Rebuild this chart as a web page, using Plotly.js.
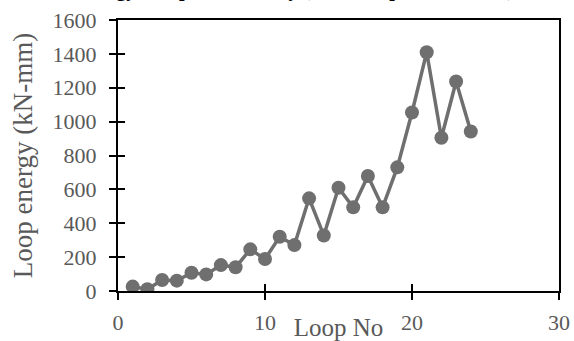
<!DOCTYPE html>
<html><head><meta charset="utf-8">
<script src="https://cdn.plot.ly/plotly-3.0.1.min.js"></script>
<style>html,body{margin:0;padding:0;background:#fff}#chart{width:574px;height:341px}</style>
</head><body><div id="chart"></div>
<script>
const loopNo = [1,2,3,4,5,6,7,8,9,10,11,12,13,14,15,16,17,18,19,20,21,22,23,24];
const loopEnergy = [26,10,65,61,108,98,153,140,246,189,320,271,547,328,610,494,679,494,730,1054,1410,905,1237,942];
const xTickVals = [0,10,20,30];
const yTickVals = [0,200,400,600,800,1000,1200,1400,1600];
const chartTitle = 'Energy dissipation history (Control specimen CS-1)';
const xTitle = 'Loop No';
const yTitle = 'Loop energy (kN-mm)';

const serif = 'Liberation Serif, Times New Roman, serif';
const gray = '#595959';
const markColor = '#6f6f6f';

const traces = [
  {x: loopNo, y: loopEnergy, type: 'scatter', mode: 'lines+markers',
   line: {color: markColor, width: 3.5}, marker: {color: markColor, size: 14},
   showlegend: false, hoverinfo: 'x+y'},
  {x: [], y: [], xaxis: 'x2', yaxis: 'y2', type: 'scatter', mode: 'markers', showlegend: false, hoverinfo: 'skip'}
];

const axisBase = {showgrid: false, zeroline: false, showline: true, linecolor: '#000', linewidth: 2,
  mirror: true, ticks: 'outside', ticklen: 7, tickwidth: 2, tickcolor: '#000',
  tickfont: {family: serif, size: 22, color: gray}};

const layout = {
  width: 574, height: 341,
  margin: {l: 118, r: 15, t: 20, b: 50},
  paper_bgcolor: '#fff', plot_bgcolor: '#fff',
  showlegend: false,
  xaxis: Object.assign({}, axisBase, {range: [0, 30], tickmode: 'array', tickvals: xTickVals,
    ticklabelstandoff: 4,
    title: {text: xTitle, font: {family: serif, size: 25, color: gray}}}),
  yaxis: Object.assign({}, axisBase, {range: [0, 1600], tickmode: 'array', tickvals: yTickVals,
    ticklabelstandoff: 8,
    title: {text: yTitle, standoff: 12, font: {family: serif, size: 27, color: gray}}}),
  xaxis2: {overlaying: 'x', range: [0, 30], tickmode: 'array', tickvals: xTickVals, ticks: 'inside',
    ticklen: 7, tickwidth: 2, tickcolor: '#000', showticklabels: false, showgrid: false, zeroline: false, showline: false},
  yaxis2: {overlaying: 'y', range: [0, 1600], tickmode: 'array', tickvals: yTickVals, ticks: 'inside',
    ticklen: 7, tickwidth: 2, tickcolor: '#000', showticklabels: false, showgrid: false, zeroline: false, showline: false},
  annotations: [{text: '<b>' + chartTitle + '</b>', xref: 'paper', yref: 'paper', x: 0.4, y: 1,
    xanchor: 'center', yanchor: 'bottom', yshift: 16.5, showarrow: false,
    font: {family: serif, size: 20, color: '#000'}}]
};

Plotly.newPlot('chart', traces, layout, {displayModeBar: false, staticPlot: true});
</script>
</body></html>
